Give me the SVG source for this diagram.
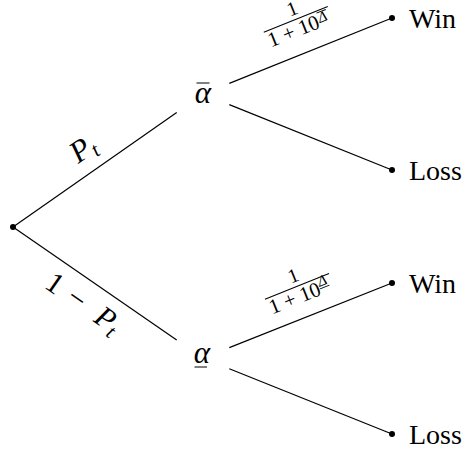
<svg xmlns="http://www.w3.org/2000/svg" width="466" height="454" viewBox="0 0 466 454">
<style>
.e{stroke:#000;stroke-width:1.2;fill:none}
.d{fill:#000}
.t{font-family:"Liberation Serif","DejaVu Serif",serif;fill:#000}
.m{font-family:"Liberation Serif","DejaVu Serif",serif;font-style:italic;fill:#000}
.b{stroke:#000;stroke-width:1;fill:none}
</style>
<rect width="466" height="454" fill="#fff"/>
<g id="connectors">
<line class="e" x1="13" y1="227" x2="176.7" y2="112.4"/>
<line class="e" x1="13" y1="227" x2="176.7" y2="340"/>
<line class="e" x1="229.3" y1="83.4" x2="392" y2="18"/>
<line class="e" x1="229.3" y1="104.6" x2="392" y2="170"/>
<line class="e" x1="229.3" y1="347.6" x2="392" y2="283"/>
<line class="e" x1="229.3" y1="368.8" x2="392" y2="434"/>
</g>
<g id="edge-labels">
<g transform="translate(78.3,164) rotate(-35)">
<text class="m" x="0" y="0" font-size="31">P<tspan font-size="21" dy="5">t</tspan></text>
</g>
<g transform="translate(81,313) rotate(34.6)">
<text class="t" x="-46" y="0" font-size="30">1</text>
<text class="t" x="-20" y="0" font-size="30">−</text>
<text class="m" x="14" y="0" font-size="30">P<tspan font-size="21" dy="5">t</tspan></text>
</g>
<g id="frac-top" transform="translate(295.3,19.5) rotate(-21.9)">
<text class="t" x="1" y="-4.5" font-size="20" text-anchor="middle">1</text>
<line class="b" x1="-34" y1="0" x2="35" y2="0"/>
<text class="t" x="-33" y="17" font-size="21">1 + 10</text>
<text class="m" x="21.5" y="12.5" font-size="15">Δ</text>
<line class="b" x1="22" y1="2" x2="32" y2="2"/>
</g>
<g id="frac-bottom" transform="translate(296.5,286.5) rotate(-21.9)">
<text class="t" x="1" y="-4.5" font-size="20" text-anchor="middle">1</text>
<line class="b" x1="-34" y1="0" x2="35" y2="0"/>
<text class="t" x="-33" y="17" font-size="21">1 + 10</text>
<text class="m" x="21.5" y="9" font-size="15">Δ</text>
<line class="b" x1="21" y1="11" x2="31" y2="11"/>
</g>
</g>
<g id="root"><circle class="d" cx="13" cy="227" r="3"/></g>
<g id="alpha-bar">
<text class="m" x="203" y="102.7" font-size="31" text-anchor="middle">α</text>
<line class="b" x1="196.5" y1="83" x2="209.5" y2="83" stroke-width="1.2"/>
</g>
<g id="alpha-under">
<text class="m" x="202" y="363.3" font-size="31" text-anchor="middle">α</text>
<line class="b" x1="194.5" y1="367" x2="207" y2="367" stroke-width="1.2"/>
</g>
<g id="win-top"><circle class="d" cx="392" cy="18" r="3"/><text class="t" x="409" y="28" font-size="28">Win</text></g>
<g id="loss-top"><circle class="d" cx="392" cy="170" r="3"/><text class="t" x="409" y="180" font-size="28">Loss</text></g>
<g id="win-bottom"><circle class="d" cx="392" cy="283" r="3"/><text class="t" x="409" y="293" font-size="28">Win</text></g>
<g id="loss-bottom"><circle class="d" cx="392" cy="434" r="3"/><text class="t" x="409" y="444" font-size="28">Loss</text></g>
</svg>
